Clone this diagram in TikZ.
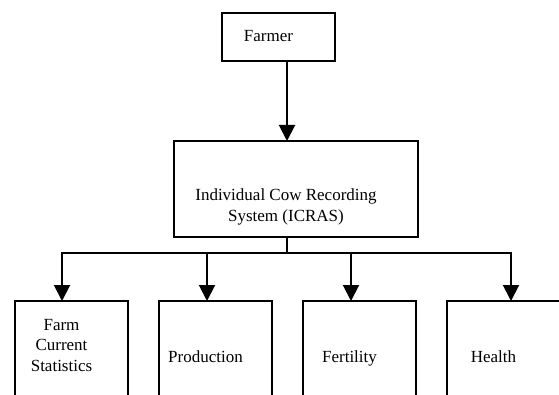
\documentclass[tikz,border=0pt]{standalone}
\usepackage{fontspec}
\setmainfont{Liberation Serif}
\usetikzlibrary{arrows.meta,positioning}

\begin{document}
\begin{tikzpicture}[x=1pt, y=-1pt, font=\fontsize{17}{21}\selectfont,
  blk/.style={draw, line width=2pt, outer sep=0pt, inner sep=0pt},
  leaf/.style={blk, minimum width=113pt, minimum height=120pt},
  txt/.style={align=center, xshift=-10pt},
  ln/.style={line width=2pt},
  ar/.style={line width=2pt, -{Triangle[length=16pt,width=16pt]}}]
\useasboundingbox (0,0) rectangle (559,395);
\clip (0,0) rectangle (559,395);
\node[blk, minimum width=113pt, minimum height=48pt,
  label={[txt, yshift=1.3pt]center:Farmer}] (farmer) at (278.5,37) {};
\node[blk, minimum width=244pt, minimum height=96pt,
  label={[txt, yshift=-17.5pt]center:Individual Cow Recording\\System (ICRAS)}] (icras) at (296,189) {};
% bottom row
\node[leaf, label={[txt, yshift=15.5pt, font=\fontsize{17}{20.5}\selectfont]center:Farm\\Current\\Statistics}] (stat) at (71.5,361) {};
\node[leaf, right=31pt of stat, label={[txt, yshift=4.7pt]center:Production}] (prod) {};
\node[leaf, right=31pt of prod, label={[txt, yshift=3pt]center:Fertility}] (fert) {};
\node[leaf, right=31pt of fert, label={[txt, yshift=4.7pt]center:Health}] (hlth) {};
\coordinate (bus) at (287,253);
\coordinate (t1) at ([xshift=-9.5pt]stat.north);
\coordinate (t2) at ([xshift=-8.5pt]prod.north);
\coordinate (t3) at ([xshift=-8.5pt]fert.north);
\coordinate (t4) at ([xshift=7.5pt]hlth.north);
\draw[ar] (farmer.south -| bus) -- (icras.north -| bus);
\draw[ln] (icras.south -| bus) -- (bus);
\draw[ar] (bus) -| (t1);
\draw[ar] (bus) -| (t2);
\draw[ar] (bus) -| (t3);
\draw[ar] (bus) -| (t4);
\end{tikzpicture}
\end{document}
